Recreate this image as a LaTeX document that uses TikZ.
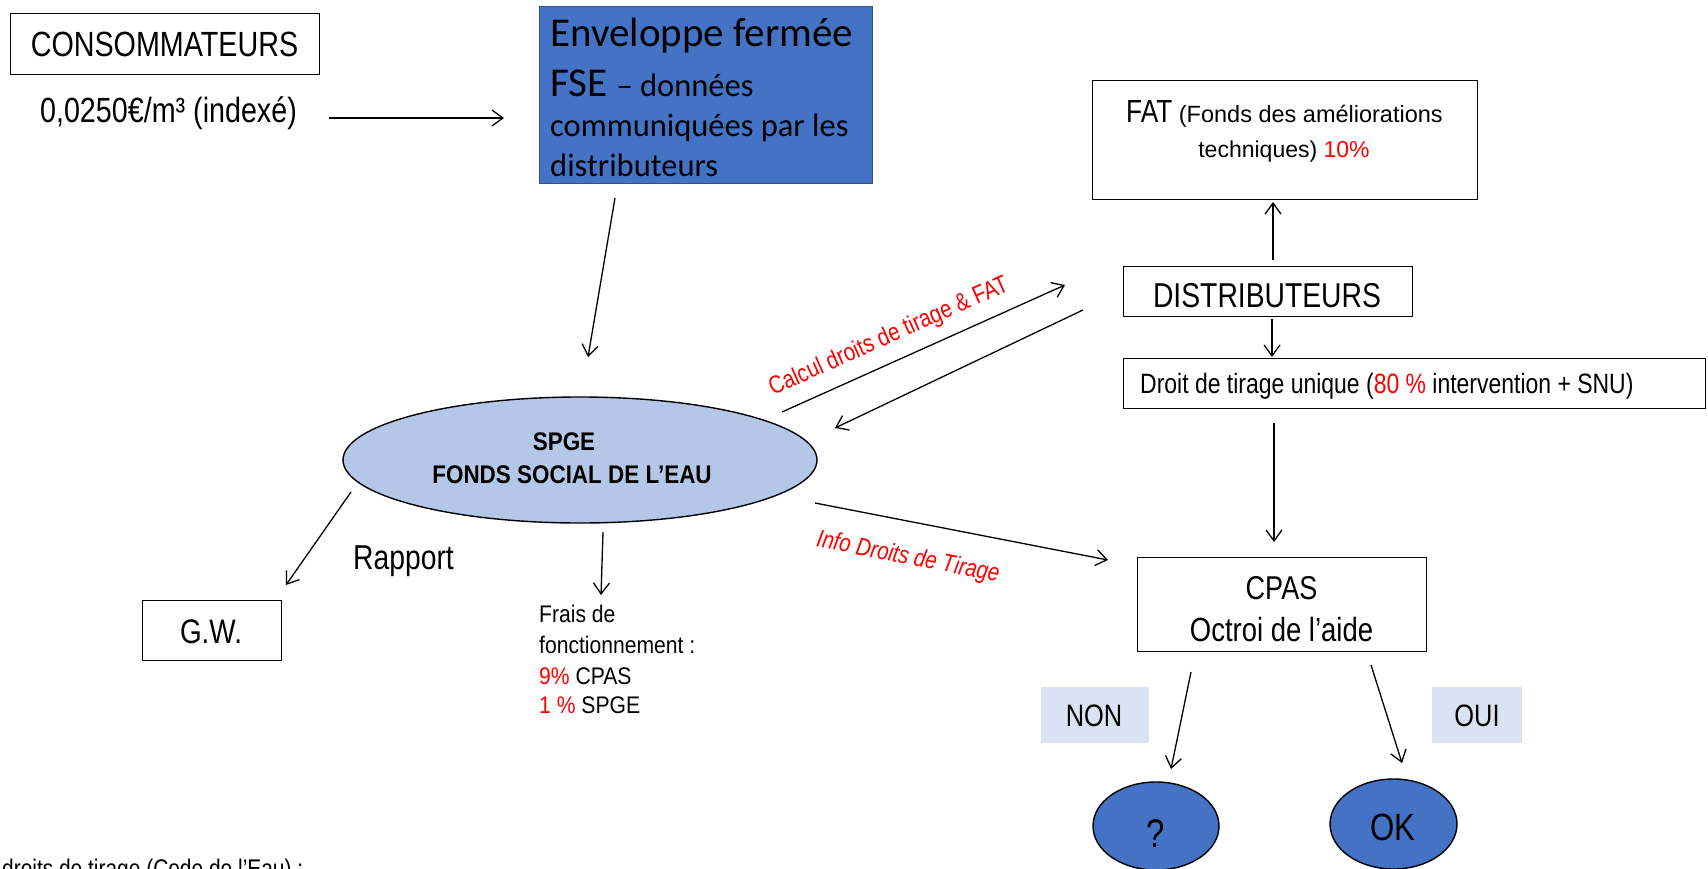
\documentclass[tikz,border=0pt]{standalone}
\usepackage{fontspec}
\setmainfont{Carlito}
\newfontfamily\fA[FakeStretch=0.82]{Liberation Sans}
\newfontfamily\fC[FakeStretch=0.88]{Liberation Sans}
\newfontfamily\fD{Liberation Sans}
\newcommand\fsz[1]{\fontsize{#1}{#1}\selectfont}
\usetikzlibrary{arrows.meta,shapes.geometric}
\definecolor{envblue}{HTML}{4472C4}
\definecolor{envedge}{HTML}{2F528F}
\definecolor{spgefill}{HTML}{B4C7E7}
\definecolor{tagfill}{HTML}{DAE3F3}
\definecolor{hot}{HTML}{FF0000}
\begin{document}
\begin{tikzpicture}[x=1pt,y=-1pt,
 framebox/.style={draw=black,line width=1.4pt,inner sep=0pt,anchor=north west},
 txt/.style={anchor=base,inner sep=0pt},
 txtl/.style={anchor=base west,inner sep=0pt},
 flow/.style={-{Straight Barb[length=11pt,width=16pt]},line width=1.3pt},
 tag/.style={fill=tagfill,inner sep=0pt,anchor=north west},
 blob/.style={ellipse,draw=black,line width=1.4pt,fill=envblue,inner sep=0pt}]
\useasboundingbox (0,0) rectangle (1708,869);
\fill[white] (0,0) rectangle (1708,869);

% consommateurs
\node[framebox,minimum width=309pt,minimum height=61pt] (cons) at (10,13) {};
\node[txt] (consT) at (164.5,57) {\fA\fsz{35}CONSOMMATEURS};
\node[txt] (price) at (168.5,123) {\fA\fsz{35}0,0250€/m³ (indexé)};

% enveloppe
\node[framebox,draw=envedge,fill=envblue,minimum width=333pt,minimum height=177pt] (env) at (539,6) {};
\node[txtl] (envA) at (550,47) {\fsz{41}Enveloppe fermée};
\node[txtl] (envB) at (550,97) {\fsz{41}FSE {\fsz{32.5}– données}};
\node[txtl] (envC) at (550,137) {\fsz{32.5}communiquées par les};
\node[txtl] (envD) at (550,177) {\fsz{32.5}distributeurs};

% SPGE
\node[ellipse,draw=black,line width=1.4pt,fill=spgefill,minimum width=474pt,minimum height=126pt,inner sep=0pt] (spge) at (580,460) {};
\node[txt] (spgeA) at (564,450) {\fC\bfseries\fsz{25.5}SPGE};
\node[txt] (spgeB) at (572,483) {\fC\bfseries\fsz{25.5}FONDS SOCIAL DE L’EAU};

% FAT
\node[framebox,minimum width=385pt,minimum height=119pt] (fat) at (1092,80) {};
\node[txtl] (fatA) at (1126,123) {\fA\fsz{32}FAT\fD\fsz{23.5} (Fonds des améliorations};
\node[txt] (fatB) at (1284,158) {\fD\fsz{23}techniques) \textcolor{hot}{10\%}};

% distributeurs
\node[framebox,minimum width=289pt,minimum height=50pt] (dist) at (1123,266) {};
\node[txt] (distT) at (1267,307) {\fA\fsz{34.5}DISTRIBUTEURS};

% droit de tirage
\node[framebox,minimum width=582pt,minimum height=50pt] (droit) at (1123,358) {};
\node[txtl] (droitT) at (1140,393) {\fA\fsz{28}Droit de tirage unique (\textcolor{hot}{80 \%} intervention + SNU)};

% CPAS
\node[framebox,minimum width=289pt,minimum height=94pt] (cpas) at (1137,557) {};
\node[txt] (cpasA) at (1281.5,599) {\fA\fsz{33}CPAS};
\node[txt] (cpasB) at (1281.5,641) {\fA\fsz{33.5}Octroi de l’aide};

% G.W.
\node[framebox,minimum width=139pt,minimum height=60pt] (gw) at (142,600) {};
\node[txt] (gwT) at (211,643) {\fA\fsz{34}G.W.};
\node[txtl] (rap) at (353,569) {\fA\fsz{34.5}Rapport};

% frais
\node[txtl] (frA) at (539,622) {\fC\fsz{24}Frais de};
\node[txtl] (frB) at (539,653) {\fC\fsz{24}fonctionnement :};
\node[txtl] (frC) at (539,684) {\fC\fsz{24}\textcolor{hot}{9\%} CPAS};
\node[txtl] (frD) at (539,713) {\fC\fsz{24}\textcolor{hot}{1 \%} SPGE};

% NON / OUI
\node[tag,minimum width=108pt,minimum height=56pt] (non) at (1041,687) {};
\node[txt] (nonT) at (1094,726) {\fA\fsz{31}NON};
\node[tag,minimum width=90pt,minimum height=56pt] (oui) at (1432,687) {};
\node[txt] (ouiT) at (1477,726) {\fA\fsz{31}OUI};

% outcome ellipses
\node[blob,minimum width=126pt,minimum height=88pt] (q) at (1156,826) {};
\node[txt] (qT) at (1156,847) {\fA\fsz{40}?};
\node[blob,minimum width=127pt,minimum height=90pt] (ok) at (1393.5,824) {};
\node[txt] (okT) at (1393,840) {\fA\fsz{38}OK};

% red labels
\node[rotate=24,inner sep=0pt,text=hot] (calc) at (889,337) {\fA\fsz{25}Calcul droits de tirage \& FAT};
\node[rotate=-11,inner sep=0pt,text=hot] (info) at (908,558) {\fA\itshape\fsz{25}Info Droits de Tirage};

% bottom note (cut by the frame)
\node[txtl] (note) at (2,877) {\fA\fsz{25.5}droits de tirage (Code de l’Eau) :};

% connector ends
\coordinate (a1s) at (329,118);  \coordinate (a1e) at (504,118);
\coordinate (a2s) at (615,198);  \coordinate (a2e) at (588,357);
\coordinate (a3s) at (782,412);  \coordinate (a3e) at (1065,285);
\coordinate (a4s) at (1083,310); \coordinate (a4e) at (835,428);
\coordinate (a5s) at (1273,260); \coordinate (a5e) at (1273,202);
\coordinate (a6s) at (1272,319); \coordinate (a6e) at (1272,357);
\coordinate (a7s) at (1274,423); \coordinate (a7e) at (1274,542);
\coordinate (a8s) at (815,503);  \coordinate (a8e) at (1108,560);
\coordinate (a9s) at (351,492);  \coordinate (a9e) at (286,585);
\coordinate (a10s) at (603,532); \coordinate (a10e) at (601,595);
\coordinate (a11s) at (1191,672); \coordinate (a11e) at (1171,769);
\coordinate (a12s) at (1371,665); \coordinate (a12e) at (1402,763);

\draw[flow] (a1s) -- (a1e);
\draw[flow] (a2s) -- (a2e);
\draw[flow] (a3s) -- (a3e);
\draw[flow] (a4s) -- (a4e);
\draw[flow] (a5s) -- (a5e);
\draw[flow] (a6s) -- (a6e);
\draw[flow] (a7s) -- (a7e);
\draw[flow] (a8s) -- (a8e);
\draw[flow] (a9s) -- (a9e);
\draw[flow] (a10s) -- (a10e);
\draw[flow] (a11s) -- (a11e);
\draw[flow] (a12s) -- (a12e);
\end{tikzpicture}
\end{document}
